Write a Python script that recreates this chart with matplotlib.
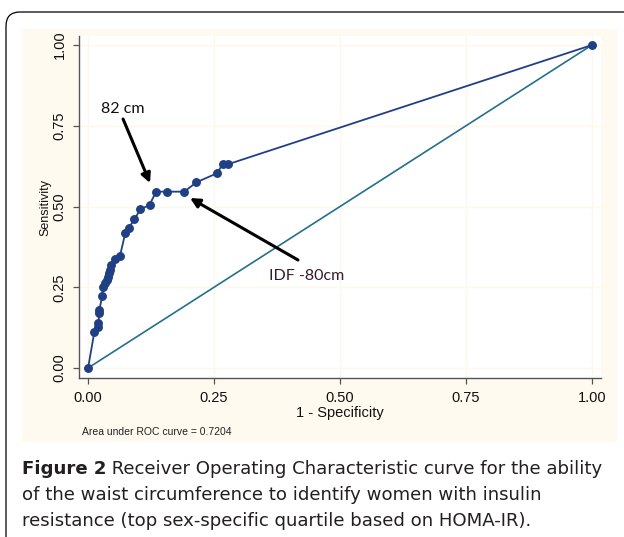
import matplotlib
matplotlib.use("Agg")
import matplotlib.pyplot as plt
from matplotlib.patches import Rectangle, FancyBboxPatch

# ---- data ----
fpr = [0.0, 0.0125, 0.019, 0.0205, 0.022, 0.0225, 0.028, 0.029, 0.034, 0.037,
       0.040, 0.042, 0.0437, 0.045, 0.0536, 0.0635, 0.074, 0.081, 0.092, 0.104,
       0.122, 0.135, 0.157, 0.191, 0.215, 0.256, 0.267, 0.278, 1.0]
tpr = [0.0, 0.112, 0.128, 0.138, 0.169, 0.180, 0.223, 0.252, 0.262, 0.272,
       0.283, 0.293, 0.303, 0.319, 0.336, 0.348, 0.419, 0.434, 0.461, 0.491,
       0.505, 0.546, 0.546, 0.546, 0.575, 0.603, 0.631, 0.631, 1.0]
ref_line = [0.0, 1.0]
ticks = [0.0, 0.25, 0.50, 0.75, 1.00]
tick_labels = ["0.00", "0.25", "0.50", "0.75", "1.00"]
auc_text = "Area under ROC curve = 0.7204"
ann_82 = "82 cm"
ann_idf = "IDF -80cm"
caption_bold = "Figure 2"
caption_lines = [
    " Receiver Operating Characteristic curve for the ability",
    "of the waist circumference to identify women with insulin",
    "resistance (top sex-specific quartile based on HOMA-IR).",
]

W, H = 624, 537
fig = plt.figure(figsize=(W / 100, H / 100), dpi=100)
fig.patch.set_facecolor("white")

def fx(px):
    return px / W

def fy(py):
    return 1 - py / H

# outer rounded frame
frame = FancyBboxPatch((6 / 100, (H - 570) / 100), 640 / 100, (570 - 12) / 100,
                       boxstyle="round,pad=0,rounding_size=0.14",
                       transform=fig.dpi_scale_trans, fill=False,
                       edgecolor="black", linewidth=0.9, zorder=-2)
fig.patches.append(frame)

# cream panel
cream = "#fffaef"
panel = Rectangle((fx(22), fy(442)), fx(617) - fx(22), fy(29) - fy(442),
                  transform=fig.transFigure, facecolor=cream, edgecolor="none", zorder=-1)
fig.patches.append(panel)

ax = fig.add_axes([fx(79), fy(378), fx(601) - fx(79), fy(36) - fy(378)])
ax.set_zorder(1)
ax.set_facecolor("white")
ax.set_xlim(-0.018, 1.018)
ax.set_ylim(-0.031, 1.028)

navy = "#1f3f87"
teal = "#217090"
ax.plot(fpr, tpr, color=navy, lw=1.3, marker="o", ms=5.4, mec=navy, mfc=navy, zorder=3,
        clip_on=False)
ax.plot(ref_line, ref_line, color=teal, lw=1.2, zorder=2)

for s in ["top", "right"]:
    ax.spines[s].set_visible(False)
for s in ["left", "bottom"]:
    ax.spines[s].set_color("#555555")
    ax.spines[s].set_linewidth(1.0)

ax.set_xticks(ticks)
ax.set_xticklabels(tick_labels)
ax.set_yticks(ticks)
ax.set_yticklabels(tick_labels, rotation=90, va="center")
ax.tick_params(axis="both", length=4, width=0.9, color="#555555", labelsize=10.5,
               labelcolor="#111111")
ax.tick_params(axis="x", pad=5)
ax.tick_params(axis="y", pad=5)
for lab in ax.get_xticklabels() + ax.get_yticklabels():
    lab.set_family("Liberation Sans")
ax.grid(True, color="#fef8ea", lw=1.0)
ax.set_axisbelow(True)

ax.set_xlabel("1 - Specificity", family="Liberation Sans", fontsize=10.5,
              color="#111111", labelpad=1)
ax.set_ylabel("Sensitivity", family="Liberation Sans", fontsize=9, color="#111111")
ax.yaxis.set_label_coords(-0.052, 0.5)

fig.text(fx(82), fy(432), auc_text, family="Liberation Sans", fontsize=7.5,
         color="#222222", va="center", ha="left")

# annotations
def dx(px):
    return (px - 88) / 504

def dy(py):
    return (368 - py) / 323

ax.text(dx(123), dy(109), ann_82, family="Lato", fontsize=11.5, ha="center",
        va="center", color="#111111")
ax.annotate("", xy=(dx(150), dy(183)), xytext=(dx(123), dy(119)),
            arrowprops=dict(arrowstyle="-|>", lw=2.2, color="black", mutation_scale=14,
                            shrinkA=0, shrinkB=0))
ax.text(dx(307), dy(276), ann_idf, family="Lato", fontsize=11.5, ha="center",
        va="center", color="#3a1a2a")
ax.annotate("", xy=(dx(190), dy(198)), xytext=(dx(298), dy(260)),
            arrowprops=dict(arrowstyle="-|>", lw=2.2, color="black", mutation_scale=14,
                            shrinkA=0, shrinkB=0))

# caption
cap_color = "#231f20"
cap_font = "DejaVu Sans"
cap_size = 13.1
line_y = [469, 495, 521]
fig.canvas.draw()
r = fig.canvas.get_renderer()
tb = fig.text(fx(22), fy(line_y[0]), caption_bold, family=cap_font, weight="bold",
              fontsize=cap_size, color=cap_color, va="center", ha="left")
bb = tb.get_window_extent(renderer=r)
fig.text(bb.x1 / W, fy(line_y[0]), caption_lines[0], family=cap_font, fontsize=cap_size,
         color=cap_color, va="center", ha="left")
for yy, t in zip(line_y[1:], caption_lines[1:]):
    fig.text(fx(22), fy(yy), t, family=cap_font, fontsize=cap_size, color=cap_color,
             va="center", ha="left")

fig.savefig("out.png", dpi=100)
